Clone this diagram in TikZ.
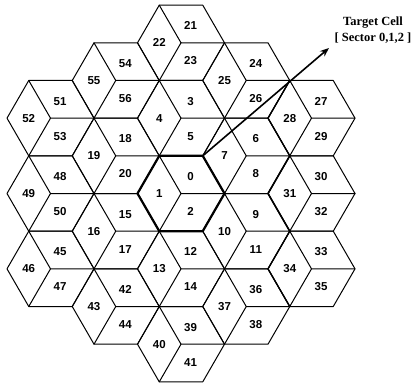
\documentclass[tikz,border=0pt]{standalone}
\usepackage{fontspec}
\setmainfont{Liberation Serif}
\setsansfont{Liberation Sans}
\usetikzlibrary{arrows.meta,calc}
\begin{document}
\begin{tikzpicture}[x=1pt,y=-1pt,
  cellline/.style={line width=1pt, line join=round, line cap=round},
  boldline/.style={line width=2.2pt, line join=round, line cap=round},
  zigline/.style={line width=1.6pt, line join=round, line cap=round},
  lightzig/.style={line width=1.3pt, line join=round, line cap=round},
  num/.style={font=\sffamily\bfseries\fontsize{11.5}{12}\selectfont, inner sep=0pt},
  title/.style={font=\rmfamily\bfseries\fontsize{12.5}{16}\selectfont, align=center, inner sep=0pt},
  pointer/.style={line width=1.6pt, -{Stealth[length=9pt,width=7pt]}}]
\useasboundingbox (0,0) rectangle (420,383);
\def\S{43.5}
\def\H{37.67}
\def\CX{181}
\def\CY{193.5}
\foreach \a/\b/\c/\i/\j in {0/1/2/0/0, 3/4/5/0/-2, 6/7/8/1/-1, 9/10/11/1/1,
  12/13/14/0/2, 15/16/17/-1/1, 18/19/20/-1/-1, 21/22/23/0/-4, 24/25/26/1/-3,
  27/28/29/2/-2, 30/31/32/2/0, 33/34/35/2/2, 36/37/38/1/3, 39/40/41/0/4,
  42/43/44/-1/3, 45/46/47/-2/2, 48/49/50/-2/0, 51/52/53/-2/-2, 54/55/56/-1/-3}{
  \coordinate (c\a) at ({\CX+1.5*\S*\i},{\CY+\H*\j});
  \begin{scope}[shift={(c\a)}]
    \draw[cellline] (-\S,0) -- (-\S/2,-\H) -- (\S/2,-\H) -- (\S,0) -- (\S/2,\H) -- (-\S/2,\H) -- cycle;
    \draw[cellline] (-\S/2,-\H) -- (0,0) -- (\S,0);
    \draw[cellline] (0,0) -- (-\S/2,\H);
    \node[num] (s\a) at (0.22*\S,-0.45*\H) {\a};
    \node[num] (s\b) at (-0.5*\S,0) {\b};
    \node[num] (s\c) at (0.22*\S,0.48*\H) {\c};
  \end{scope}
}
% bold outline of the central (target) cell
\draw[boldline] ($(c0)+(-\S,0)$) -- ($(c0)+(-\S/2,-\H)$) -- ($(c0)+(\S/2,-\H)$)
  -- ($(c0)+(\S,0)$) -- ($(c0)+(\S/2,\H)$) -- ($(c0)+(-\S/2,\H)$) -- cycle;
% heavier zigzag on the right
\draw[lightzig] ($(c27)+(-\S/2,-\H)$) -- ($(c27)+(-\S,0)$) -- ($(c27)+(-\S/2,\H)$);
\draw[zigline] ($(c27)+(-\S/2,\H)$)
  -- ($(c30)+(-\S,0)$) -- ($(c30)+(-\S/2,\H)$);
\draw[lightzig] ($(c30)+(-\S/2,\H)$) -- ($(c33)+(-\S,0)$) -- ($(c33)+(-\S/2,\H)$);
\draw[zigline] ($(c0)+(\S,0)$) -- ($(c30)+(-\S,0)$);
% target label and arrow
\node[title] (target) at (373,30) {Target Cell\\ {[} Sector 0,1,2 {]}};
\coordinate (start) at ($(c0)+(\S/2,-\H)$);
\coordinate (tip) at (329,48);
\draw[pointer] (start) -- (tip);
\end{tikzpicture}
\end{document}
